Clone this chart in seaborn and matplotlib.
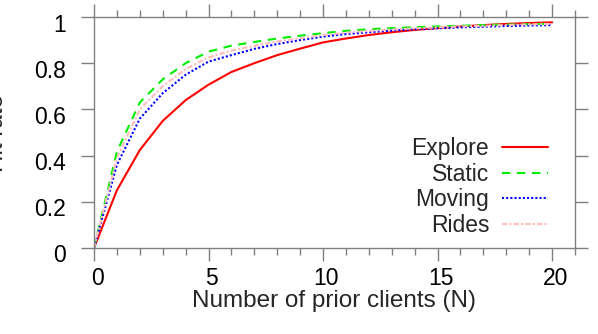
"""Hit rate vs number of prior clients, gnuplot-style line chart."""

import matplotlib

matplotlib.use("Agg")
import matplotlib.pyplot as plt
from matplotlib.ticker import MultipleLocator
from matplotlib.transforms import ScaledTranslation
import pandas as pd
import seaborn as sns

# Data
n_clients = list(range(21))
explore = [0.0, 0.25, 0.424, 0.55, 0.64, 0.707, 0.762, 0.80, 0.835, 0.863, 0.89,
           0.907, 0.922, 0.934, 0.944, 0.952, 0.959, 0.965, 0.97, 0.974, 0.977]
static = [0.0, 0.417, 0.63, 0.73, 0.80, 0.85, 0.876, 0.892, 0.907, 0.919, 0.93,
          0.94, 0.947, 0.952, 0.956, 0.959, 0.962, 0.965, 0.967, 0.969, 0.971]
moving = [0.0, 0.36, 0.56, 0.67, 0.75, 0.807, 0.835, 0.862, 0.883, 0.90, 0.915,
          0.926, 0.934, 0.941, 0.947, 0.951, 0.955, 0.958, 0.961, 0.963, 0.965]
rides = [0.0, 0.39, 0.60, 0.70, 0.775, 0.825, 0.855, 0.875, 0.894, 0.908, 0.922,
         0.932, 0.94, 0.946, 0.951, 0.955, 0.959, 0.962, 0.965, 0.968, 0.97]
series_names = ["Explore", "Static", "Moving", "Rides"]
x_ticks = [0, 5, 10, 15, 20]
y_ticks = [0, 0.2, 0.4, 0.6, 0.8, 1]

sns.set_style("ticks")
plt.rcParams["font.family"] = ["Liberation Sans", "DejaVu Sans"]

df = pd.concat(
    [
        pd.DataFrame({"N": n_clients, "Hit rate": vals, "Method": name})
        for name, vals in zip(series_names, [explore, static, moving, rides])
    ],
    ignore_index=True,
)

palette = {"Explore": "#ff0000", "Static": "#00ee00", "Moving": "#0000ff", "Rides": "#ffbcbc"}
dashes = {"Explore": "", "Static": (4, 3.2), "Moving": (1, 1), "Rides": (2.6, 1, 1, 1)}

fig = plt.figure(figsize=(5.98, 3.34), dpi=100)
ax = fig.add_axes([94 / 598, 86 / 334, 481 / 598, 231 / 334])

sns.lineplot(
    data=df, x="N", y="Hit rate", hue="Method", style="Method",
    palette=palette, dashes=dashes, hue_order=series_names, style_order=series_names,
    lw=1.5, ax=ax,
)

ax.set_xlim(0, 21)
ax.set_ylim(0, 1)
ax.set_xticks(x_ticks)
ax.set_xticklabels([str(t) for t in x_ticks])
ax.xaxis.set_minor_locator(MultipleLocator(1))
ax.set_yticks(y_ticks)
ax.set_yticklabels(["0", "0.2", "0.4", "0.6", "0.8", "1"])

gray = "#808080"
for side in ["left", "right", "top", "bottom"]:
    ax.spines[side].set_visible(True)
    ax.spines[side].set_color(gray)
    ax.spines[side].set_linewidth(1.0)
ax.tick_params(which="both", direction="out", color=gray, width=1.0,
               top=True, right=True, labelsize=16.5, labelcolor="black")
ax.tick_params(which="major", length=9.5)
ax.tick_params(which="minor", length=5)
ax.tick_params(axis="y", pad=10.5)
ax.tick_params(axis="x", pad=4.5)

# gnuplot puts its tick labels slightly off the tick positions
for lbl in ax.get_yticklabels():
    lbl.set_transform(lbl.get_transform() + ScaledTranslation(0, -0.055, fig.dpi_scale_trans))
for lbl in ax.get_xticklabels():
    lbl.set_transform(lbl.get_transform() + ScaledTranslation(0.03, 0, fig.dpi_scale_trans))

ax.set_xlabel("Number of prior clients (N)", fontsize=17.5, labelpad=0)
ax.set_ylabel("Hit rate", fontsize=17.5)
ax.yaxis.set_label_coords(-86 / 481, 0.5)

ax.legend(
    loc="upper right", bbox_to_anchor=(0.944, 0.481), frameon=False,
    markerfirst=False, fontsize=16.5, handlelength=2.0, handletextpad=0.57,
    labelspacing=0.12, borderpad=0, borderaxespad=0,
)

fig.savefig("out.png", dpi=100)
